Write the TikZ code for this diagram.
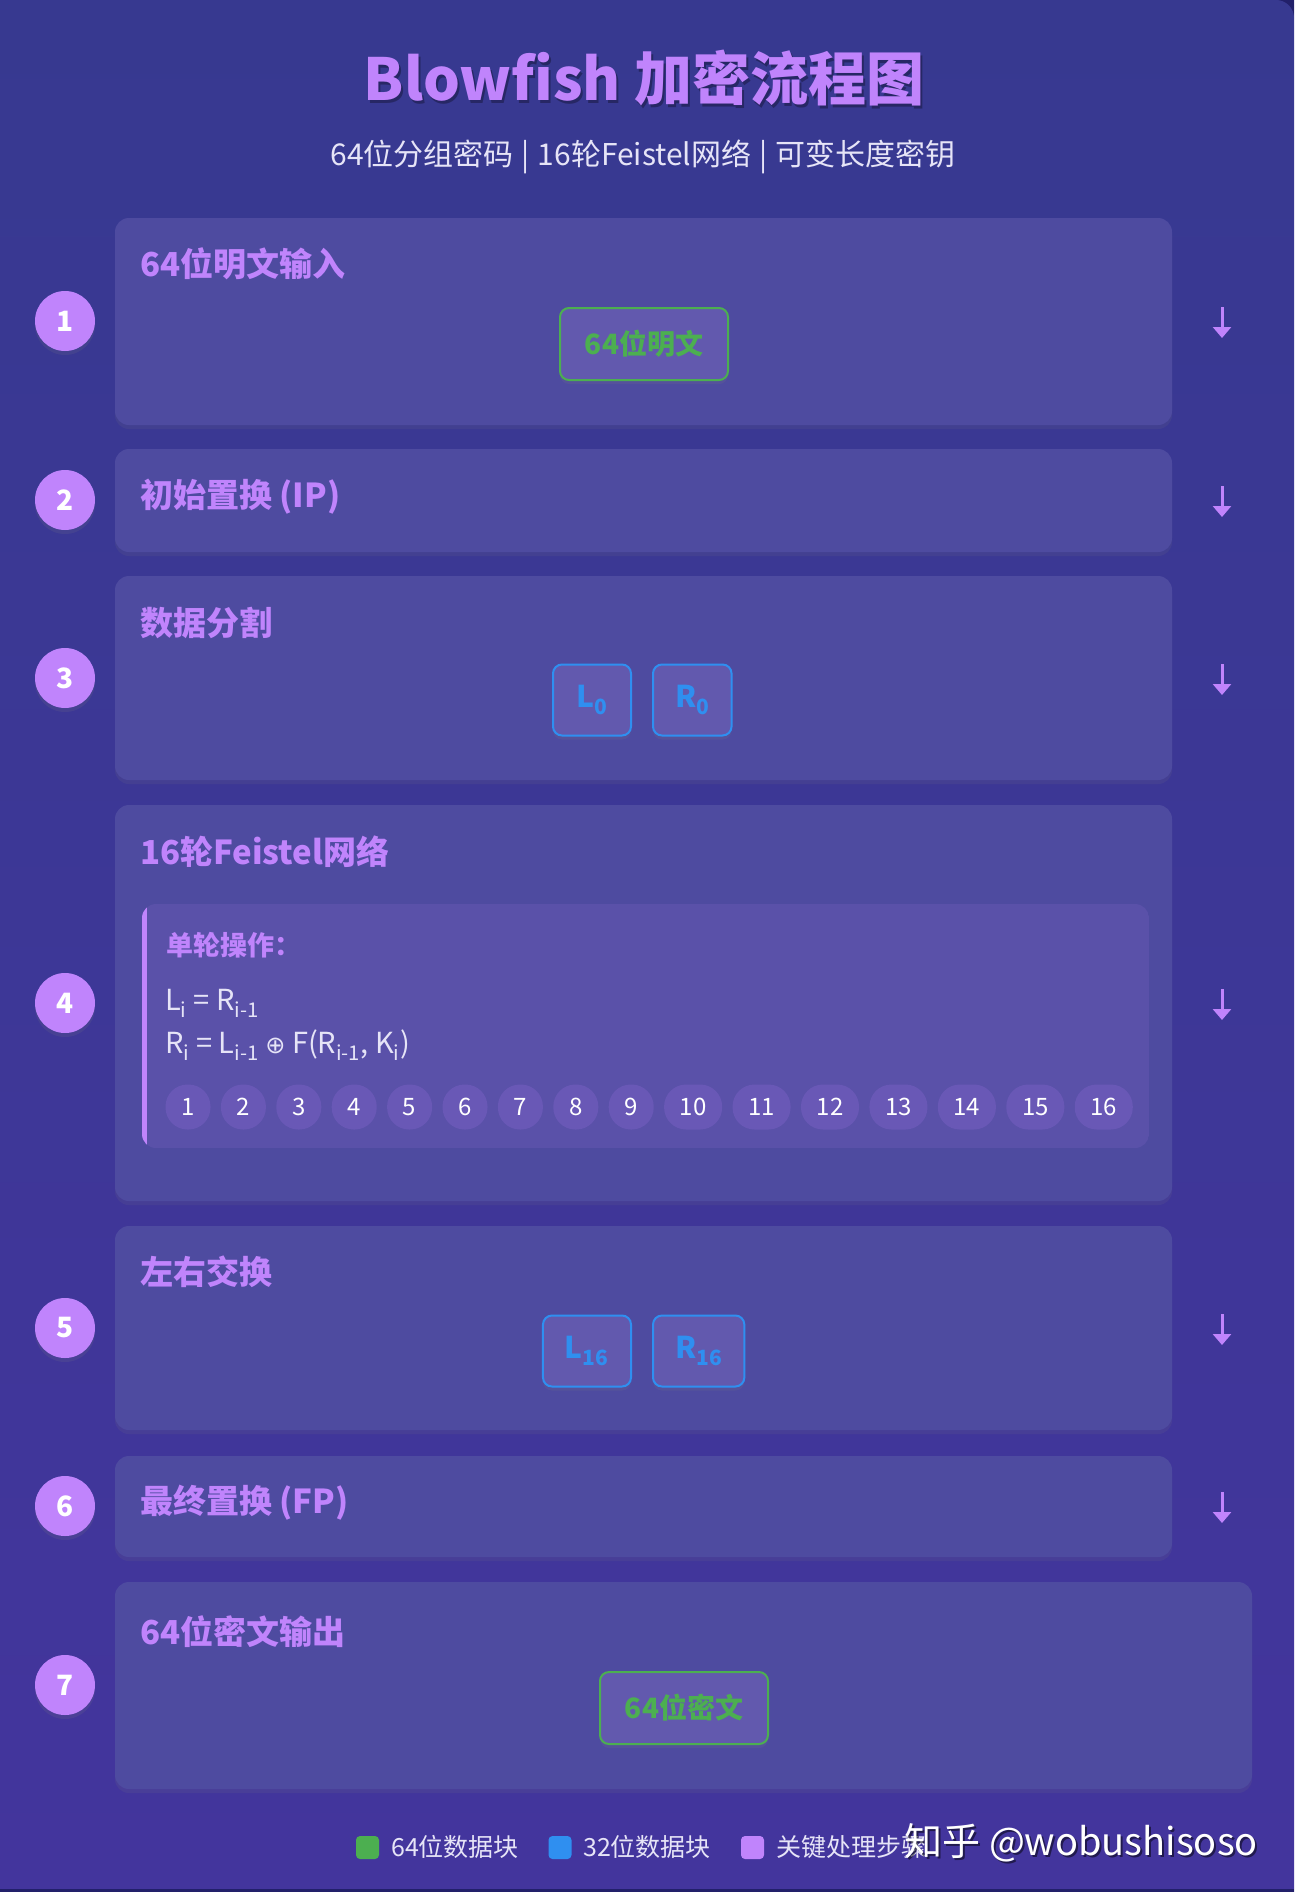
\documentclass[tikz,border=0pt]{standalone}
\usepackage{fontspec}
\setmainfont{Noto Sans CJK SC}
\newfontfamily\symfont{DejaVu Sans}
\usepackage{xcolor}
\usetikzlibrary{positioning,shadows,arrows.meta}

\definecolor{bgtop}{HTML}{373990}
\definecolor{bgbot}{HTML}{43359D}
\definecolor{edgedark}{HTML}{22206A}
\definecolor{cardfill}{HTML}{4E4BA0}
\definecolor{innerfill}{HTML}{5A51A9}
\definecolor{accent}{HTML}{C084FC}
\definecolor{okgreen}{HTML}{4CAF50}
\definecolor{keyblue}{HTML}{2F8FF0}
\definecolor{pillfill}{HTML}{6958B6}
\definecolor{chipfill}{HTML}{6259AE}
\definecolor{softwhite}{HTML}{E6E4F7}

\newcommand{\fsz}[1]{\fontsize{#1}{#1}\selectfont}

% one card per step, the number on its left, the arrow on its right
\newcommand{\stepcard}[3]{
\path[card] (115,#1) rectangle (#3,#2);
}
\newcommand{\stepnum}[2]{
\node[stepdot] (n#1) at (65,#2) {#1};
}
\newcommand{\steparrow}[2]{
\coordinate (a#1t) at (1222,#2-14);
\coordinate (a#1b) at (1222,#2+17);
\draw[flowarrow] (a#1t) -- (a#1b);
}

\tikzset{
  card/.style={fill=cardfill, rounded corners=14pt,
    drop shadow={opacity=0.12, shadow xshift=0pt, shadow yshift=-4pt}},
  stepdot/.style={circle, fill=accent, minimum size=60pt, inner sep=0pt,
    text=white, font=\fsz{28}\bfseries,
    drop shadow={opacity=0.15, shadow xshift=0pt, shadow yshift=-4pt}},
  flowarrow/.style={draw=accent, line width=3pt, -{Triangle[width=18pt,length=11pt]}},
  steptitle/.style={anchor=west, text=accent, font=\fsz{33}\bfseries, inner sep=0pt},
  greenchip/.style={draw=okgreen, line width=2pt, fill=chipfill, rounded corners=9pt,
    minimum width=168pt, minimum height=72pt, text=okgreen, font=\fsz{28}\bfseries,
    drop shadow={opacity=0.15, shadow xshift=0pt, shadow yshift=-4pt}},
  bluechip/.style={draw=keyblue, line width=2pt, fill=chipfill, rounded corners=9pt,
    minimum width=78pt, minimum height=71pt, inner xsep=22pt, text=keyblue,
    font=\fsz{30}\bfseries,
    drop shadow={opacity=0.15, shadow xshift=0pt, shadow yshift=-4pt}},
  pill/.style={fill=pillfill, rounded corners=22pt, minimum width=45pt,
    minimum height=45pt, inner xsep=15.7pt, inner ysep=0pt, text=white, font=\fsz{24}},
  formula/.style={anchor=west, text=softwhite, font=\fsz{29}, inner sep=0pt},
  legendbox/.style={rounded corners=4pt, minimum size=23pt, inner sep=0pt},
  legendtext/.style={anchor=west, text=softwhite, font=\fsz{25}, inner sep=0pt},
}

\begin{document}
\begin{tikzpicture}[x=1pt,y=-1pt]
\useasboundingbox (0,0) rectangle (1294,1892);
\shade[top color=bgtop, bottom color=bgbot] (0,0) rectangle (1294,1892);
\fill[edgedark] (0,1889) rectangle (1294,1892);
\fill[edgedark] (1276,0) rectangle (1294,18);
\fill[bgtop] (1276,18) circle[radius=18pt];

% heading
\node[text=black, opacity=0.3, font=\fsz{58}\bfseries] at (646,81) {Blowfish 加密流程图};
\node[text=accent, font=\fsz{58}\bfseries] (title) at (644,78) {Blowfish 加密流程图};
\node[text=softwhite, font=\fsz{30}] (subtitle) at (643,157)
  {64位分组密码\hspace{8pt}|\hspace{8pt}16轮Feistel网络\hspace{8pt}|\hspace{8pt}可变长度密钥};

\stepcard{218}{425}{1172}
\stepcard{449}{552}{1172}
\stepcard{576}{780}{1172}
\stepcard{805}{1201}{1172}
\stepcard{1226}{1430}{1172}
\stepcard{1456}{1557}{1172}
\stepcard{1582}{1789}{1252}

\stepnum{1}{321}
\stepnum{2}{500}
\stepnum{3}{678}
\stepnum{4}{1003}
\stepnum{5}{1328}
\stepnum{6}{1506}
\stepnum{7}{1685}

\steparrow{1}{321}
\steparrow{2}{500}
\steparrow{3}{678}
\steparrow{4}{1003}
\steparrow{5}{1328}
\steparrow{6}{1506}

\node[steptitle] (t1) at (140,264) {64位明文输入};
\node[steptitle] (t2) at (140,497) {初始置换 (IP)};
\node[steptitle] (t3) at (140,623) {数据分割};
\node[steptitle] (t4) at (140,852) {16轮Feistel网络};
\node[steptitle] (t5) at (140,1272) {左右交换};
\node[steptitle] (t6) at (140,1503) {最终置换 (FP)};
\node[steptitle] (t7) at (140,1632) {64位密文输出};

% step 1 and 7
\node[greenchip] (plain) at (644,344) {64位明文};
\node[greenchip] (cipher) at (684,1708) {64位密文};

% step 3 and 5
\node[bluechip] (l0) at (592,700) {L\textsubscript{0}};
\node[bluechip, right=20pt of l0] (r0) {R\textsubscript{0}};
\node[bluechip] (l16) at (587,1351) {L\textsubscript{16}};
\node[bluechip, right=20pt of l16] (r16) {R\textsubscript{16}};

% step 4: one round
\begin{scope}
\clip[rounded corners=14pt] (142,904) rectangle (1149,1148);
\fill[innerfill] (142,904) rectangle (1149,1148);
\fill[accent] (142,904) rectangle (147,1148);
\end{scope}
\node[steptitle, font=\fsz{27}\bfseries] (oneround) at (166,945) {单轮操作：};
\node[formula] (eqL) at (165,1003) {L\textsubscript{i} = R\textsubscript{i-1}};
\node[formula] (eqR) at (165,1045)
  {R\textsubscript{i} = L\textsubscript{i-1} {\symfont\fsz{24}⊕} F(R\textsubscript{i-1}, K\textsubscript{i})};
\node[pill] (r1) at (188,1107) {1};
\foreach \i [remember=\i as \prev (initially 1)] in {2,...,16}
  \node[pill, right=10pt of r\prev] (r\i) {\i};

% legend
\node[legendbox, fill=okgreen] (k1) at (367.5,1847.5) {};
\node[legendtext] (k1t) at (391,1847) {64位数据块};
\node[legendbox, fill=keyblue] (k2) at (560,1847.5) {};
\node[legendtext] (k2t) at (583,1847) {32位数据块};
\node[legendbox, fill=accent] (k3) at (752.5,1847.5) {};
\node[legendtext] (k3t) at (776,1847) {关键处理步骤};

\node[anchor=west, text=black, opacity=0.5, font=\fsz{38}] at (903,1845) {知乎 @wobushisoso};
\node[anchor=west, text=white, font=\fsz{38}] (mark) at (901,1843) {知乎 @wobushisoso};
\end{tikzpicture}
\end{document}
